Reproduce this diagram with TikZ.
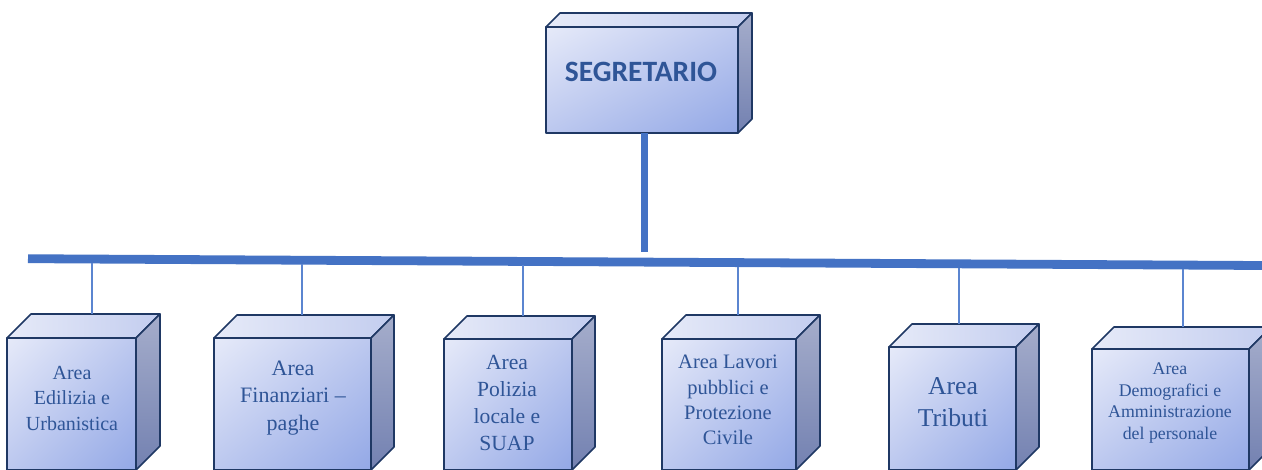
\documentclass[tikz,border=0pt]{standalone}
\usepackage{fontspec}
\usetikzlibrary{shadings}
\setmainfont{Liberation Serif}
\newfontfamily\calib{Carlito}
\definecolor{edge}{HTML}{1F3864}
\definecolor{conn}{HTML}{4472C4}
\definecolor{branchc}{HTML}{5B85D0}
\definecolor{txt}{HTML}{2F5597}
\definecolor{fLight}{HTML}{E6EAF9}
\definecolor{fDark}{HTML}{93A8E6}
\definecolor{fMid}{HTML}{BCC8EF}
\definecolor{sLight}{HTML}{A5ADCB}
\definecolor{sDark}{HTML}{7381B1}
\definecolor{tLight}{HTML}{E6EAF8}
\definecolor{tDark}{HTML}{C3CDEF}
\tikzset{
  frontface/.style={draw=edge, line width=1.6pt, line join=round, upper left=fLight, lower right=fDark, upper right=fMid, lower left=fMid, inner sep=0pt, outer sep=0pt, anchor=north west},
  topface/.style={draw=edge, line width=1.6pt, line join=round, left color=tLight, right color=tDark},
  sideface/.style={draw=edge, line width=1.6pt, line join=round, top color=sLight, bottom color=sDark},
  lab/.style={text=txt, align=center, inner sep=0pt},
  trunk/.style={draw=conn, line width=6.4pt},
  bar/.style={draw=conn, line width=8.8pt},
  branch/.style={draw=branchc, line width=1.1pt}
}
% #1 name, #2 x0, #3 y0, #4 x1, #5 y1, #6 depth
\newcommand\mkcube[6]{%
  \node[frontface, minimum width={#4-#2}, minimum height={#5-#3}] (#1) at (#2,#3) {};
  \path[topface] (#1.north west) -- ++(#6,-#6) -- ++({#4-#2},0) -- (#1.north east) -- cycle;
  \path[sideface] (#1.north east) -- ++(#6,-#6) -- ++(0,{#5-#3}) -- (#1.south east) -- cycle;
  \path (#1.north west) ++(#6,-#6) coordinate (#1-t);
}
\begin{document}
\begin{tikzpicture}[x=1pt, y=-1pt]
\useasboundingbox (0,0) rectangle (1262,469);
\clip (0,0) rectangle (1262,469);
\fill[white] (0,0) rectangle (1262,469);

% top box
\mkcube{seg}{546}{27}{738}{133}{14}
\node[lab, font=\calib\bfseries\fontsize{29.5}{34}\selectfont] (segl) at (641,72) {SEGRETARIO};

% bar and trunk
\coordinate (barL) at (28,258.7);
\coordinate (barR) at (1262,265.5);
\coordinate (trunkEnd) at (644.5,251.7);
\draw[trunk] (seg.south -| trunkEnd) -- (trunkEnd);
\draw[bar] (barL) -- (barR);

% children
\mkcube{b1}{7}{338}{136}{470}{24}
\mkcube{b2}{214}{338}{371}{470}{23}
\mkcube{b3}{444}{339}{572}{470}{23}
\mkcube{b4}{662}{339}{796}{470}{24}
\mkcube{b5}{889}{347}{1016}{470}{23}
\mkcube{b6}{1092}{349}{1249}{470}{22}

\node[lab, font=\fontsize{20}{25.5}\selectfont] (l1) at (72,398) {Area\\Edilizia e\\Urbanistica};
\node[lab, font=\fontsize{22}{27.5}\selectfont] (l2) at (293,398) {Area\\Finanziari –\\paghe};
\node[lab, font=\fontsize{21.6}{27}\selectfont] (l3) at (507,403) {Area\\Polizia\\locale e\\SUAP};
\node[lab, font=\fontsize{20.5}{25.3}\selectfont] (l4) at (728,400) {Area Lavori\\pubblici e\\Protezione\\Civile};
\node[lab, font=\fontsize{25.7}{32}\selectfont] (l5) at (953,402) {Area\\Tributi};
\node[lab, font=\fontsize{17.8}{21.5}\selectfont] (l6) at (1170,403) {Area\\Demografici e\\Amministrazione\\del personale};

% branches from bar to boxes
\foreach \n/\x in {b1/92, b2/302, b3/523, b4/738, b5/959, b6/1183}{
  \coordinate (j\n) at ({\x}, {258.7+6.8*(\x-28)/1234+4});
  \draw[branch] (j\n) -- (j\n |- \n-t);
}
\end{tikzpicture}
\end{document}
